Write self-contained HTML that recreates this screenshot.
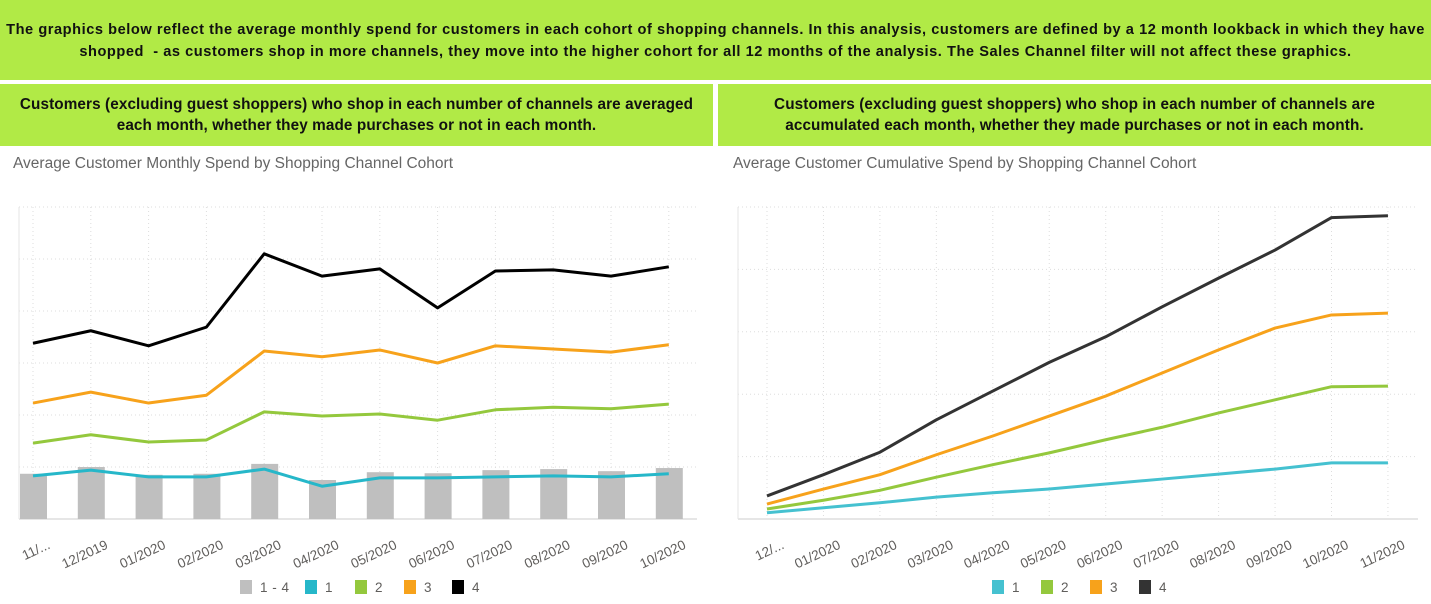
<!DOCTYPE html>
<html><head><meta charset="utf-8"><style>
body{margin:0;width:1431px;height:604px;background:#fff;font-family:"Liberation Sans",sans-serif;overflow:hidden;position:relative}
.box{position:absolute;background:#b1ea46;color:#111;font-weight:bold;text-align:center;display:flex;align-items:center;justify-content:center;line-height:21px}
.title{position:absolute;top:155px;font-size:15.5px;color:#666}
svg{position:absolute;left:0;top:0}
</style></head><body>
<div class="box" style="left:0;top:0;width:1431px;height:80px;padding:0 4px;box-sizing:border-box;font-size:14.6px;letter-spacing:0.55px;line-height:22px;padding-top:2px">The graphics below reflect the average monthly spend for customers in each cohort of shopping channels. In this analysis, customers are defined by a 12 month lookback in which they have<br>shopped &nbsp;- as customers shop in more channels, they move into the higher cohort for all 12 months of the analysis. The Sales Channel filter will not affect these graphics.</div>
<div class="box" style="left:0;top:84px;width:713px;height:62px;font-size:15.3px;letter-spacing:0.1px">Customers (excluding guest shoppers) who shop in each number of channels are averaged<br>each month, whether they made purchases or not in each month.</div>
<div class="box" style="left:718px;top:84px;width:713px;height:62px;font-size:15.3px;letter-spacing:0.1px">Customers (excluding guest shoppers) who shop in each number of channels are<br>accumulated each month, whether they made purchases or not in each month.</div>
<div class="title" style="left:13px">Average Customer Monthly Spend by Shopping Channel Cohort</div>
<div class="title" style="left:733px">Average Customer Cumulative Spend by Shopping Channel Cohort</div>
<svg id="svg" width="1431" height="604"></svg>
<script>
const leftCats=["11/...","12/2019","01/2020","02/2020","03/2020","04/2020","05/2020","06/2020","07/2020","08/2020","09/2020","10/2020"];
const leftBars=[.87,1.0,.85,.87,1.06,.75,.9,.88,.94,.96,.92,.98];
const leftS1=[.83,.94,.81,.81,.96,.63,.79,.79,.81,.83,.81,.87];
const leftS2=[1.46,1.62,1.48,1.52,2.06,1.98,2.02,1.9,2.1,2.15,2.12,2.21];
const leftS3=[2.23,2.44,2.23,2.38,3.23,3.12,3.25,3.0,3.33,3.27,3.21,3.35];
const leftS4=[3.38,3.62,3.33,3.69,5.1,4.67,4.81,4.06,4.77,4.79,4.67,4.85];
const rightCats=["12/...","01/2020","02/2020","03/2020","04/2020","05/2020","06/2020","07/2020","08/2020","09/2020","10/2020","11/2020"];
const rightS1=[.1,.18,.26,.35,.42,.48,.56,.64,.72,.8,.9,.9];
const rightS2=[.16,.3,.46,.67,.87,1.06,1.27,1.47,1.7,1.91,2.12,2.13];
const rightS3=[.24,.48,.71,1.03,1.33,1.65,1.97,2.34,2.71,3.06,3.27,3.3];
const rightS4=[.37,.71,1.07,1.59,2.05,2.51,2.92,3.4,3.86,4.31,4.83,4.86];
const svg=document.getElementById('svg');const NS="http://www.w3.org/2000/svg";
function el(t,a){const e=document.createElementNS(NS,t);for(const k in a)e.setAttribute(k,a[k]);svg.appendChild(e);return e;}
function chart(o){
 const x=i=>o.x0+i*o.step, y=v=>o.yb-v*o.unit;
 for(let g=0;g<=o.nGrid;g++){const gy=y(g);const l=el('line',{x1:o.left,x2:o.right,y1:gy,y2:gy,stroke:'#ddd','stroke-dasharray':'1,3'});
 }
 o.cats.forEach((c,i)=>{const l=el('line',{x1:x(i),x2:x(i),y1:o.yb-o.nGrid*o.unit,y2:o.yb,stroke:'#ddd','stroke-dasharray':'1,3'});
 
 const tx=x(i)+18,ty=o.yb+29;
 const t=el('text',{x:tx,y:ty,'text-anchor':'end','font-size':'13.5',fill:'#605e5c',transform:`rotate(-25 ${tx} ${ty})`});t.textContent=c;
 });
 const ax=el('line',{x1:o.left,x2:o.right,y1:o.yb,y2:o.yb,stroke:'#ccc'});
 const ay=el('line',{x1:o.left,x2:o.left,y1:o.yb-o.nGrid*o.unit,y2:o.yb,stroke:'#e6e6e6'});
 if(o.bars)o.bars.forEach((v,i)=>{const r=el('rect',{x:x(i)-13,y:y(v),width:27,height:v*o.unit,fill:'#bfbfbf'});});
 o.series.forEach(s=>{const p=el('polyline',{points:s.d.map((v,i)=>x(i)+','+y(v)).join(' '),fill:'none',stroke:s.c,'stroke-width':3,'stroke-linejoin':'round'});
 });
 let lx=o.legX;o.legend.forEach(l=>{const r=el('rect',{x:lx,y:580,width:12,height:14,fill:l.c});
 const t=el('text',{x:lx+20,y:592,'font-size':'13.5',fill:'#605e5c','letter-spacing':'0.5'});t.textContent=l.n;lx+=l.w;});
}
chart({cats:leftCats,x0:33,step:57.8,yb:519,unit:52,nGrid:6,left:19,right:697,bars:leftBars,
 series:[{n:'2',d:leftS2,c:'#94c83d'},{n:'3',d:leftS3,c:'#f7a21b'},{n:'4',d:leftS4,c:'#000'},{n:'1',d:leftS1,c:'#26b7c9'}],
 legX:240,legend:[{n:'1 - 4',c:'#bfbfbf',w:65},{n:'1',c:'#26b7c9',w:50},{n:'2',c:'#94c83d',w:49},{n:'3',c:'#f7a21b',w:48},{n:'4',c:'#000',w:48}]});
chart({cats:rightCats,x0:767,step:56.45,yb:519,unit:62.4,nGrid:5,left:738,right:1418,
 series:[{n:'1',d:rightS1,c:'#45c1d0'},{n:'2',d:rightS2,c:'#94c83d'},{n:'3',d:rightS3,c:'#f7a21b'},{n:'4',d:rightS4,c:'#333'}],
 legX:992,legend:[{n:'1',c:'#45c1d0',w:49},{n:'2',c:'#94c83d',w:49},{n:'3',c:'#f7a21b',w:49},{n:'4',c:'#333',w:49}]});
</script>
</body></html>
